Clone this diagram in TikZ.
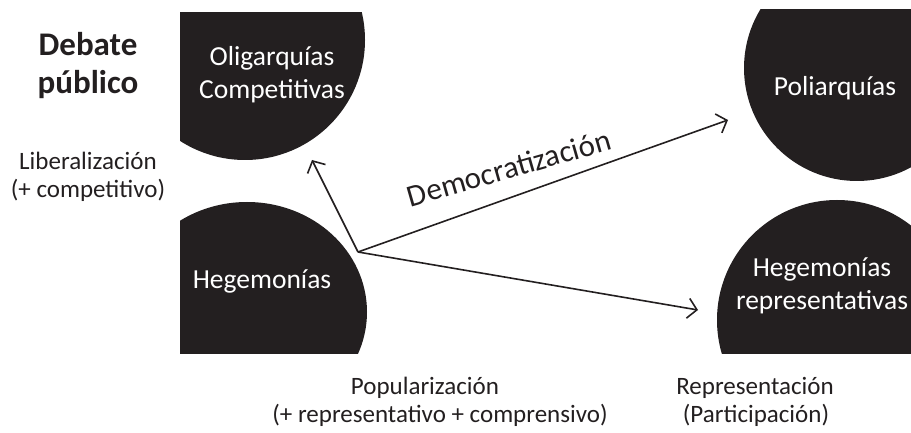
\documentclass[tikz,border=0pt]{standalone}
\usepackage{fontspec}
\setmainfont{Carlito}
\usetikzlibrary{arrows.meta}
\definecolor{ink}{HTML}{231F20}
\begin{document}
\begin{tikzpicture}[x=1pt,y=-1pt,
  blob/.style={fill=ink},
  intext/.style={text=white, font=\fontsize{27.5}{33}\selectfont, align=center, inner sep=0pt},
  lbl/.style={text=ink, font=\fontsize{25}{28}\selectfont, align=center, inner sep=0pt},
  head/.style={text=ink, font=\bfseries\fontsize{33}{38}\selectfont, align=center, inner sep=0pt},
  arr/.style={draw=ink, line width=1.6pt, -{Straight Barb[length=9pt,width=20pt]}}]
\useasboundingbox (0,0) rectangle (911,433);
% shapes
\begin{scope}
  \clip (180,13) rectangle (420,220);
  \fill[blob] (245,40) circle [radius=120pt];
\end{scope}
\begin{scope}
  \clip (180,180) rectangle (420,353);
  \fill[blob] (247,312) ellipse [x radius=120pt, y radius=110pt];
\end{scope}
\begin{scope}
  \clip (700,10) rectangle (911,220);
  \fill[blob] (857,68) circle [radius=113pt];
\end{scope}
\begin{scope}
  \clip (690,190) rectangle (911,353);
  \fill[blob] (837,320) circle [radius=120pt];
\end{scope}
% texts in shapes
\node[intext] (olig) at (272,75) {Oligarquías\\Competitivas};
\node[intext] (hege) at (262,281) {Hegemonías};
\node[intext] (poli) at (835,88) {Poliarquías};
\node[intext] (hrep) at (822,286) {Hegemonías\\representativas};
% labels
\node[head] (deb) at (88,66) {Debate\\público};
\node[lbl] (lib) at (88,177) {Liberalización\\(+ competitivo)};
\node[lbl] (pop1) at (425,388) {Popularización};
\node[lbl] (pop2) at (440,415) {(+ representativo + comprensivo)};
\node[lbl] (rep1) at (755,388) {Representación};
\node[lbl] (rep2) at (756,415) {(Participación)};
% arrows
\coordinate (hub) at (358,252);
\coordinate (tOlig) at (312,160);
\coordinate (tPoli) at (728,120);
\coordinate (tHrep) at (698,310);
\draw[arr] (hub) -- (tOlig);
\draw[arr] (hub) -- (tPoli);
\draw[arr] (hub) -- (tHrep);
\node[text=ink, font=\fontsize{31}{36}\selectfont, rotate=16, inner sep=0pt] (dem) at (509,168) {Democratización};
\end{tikzpicture}
\end{document}
